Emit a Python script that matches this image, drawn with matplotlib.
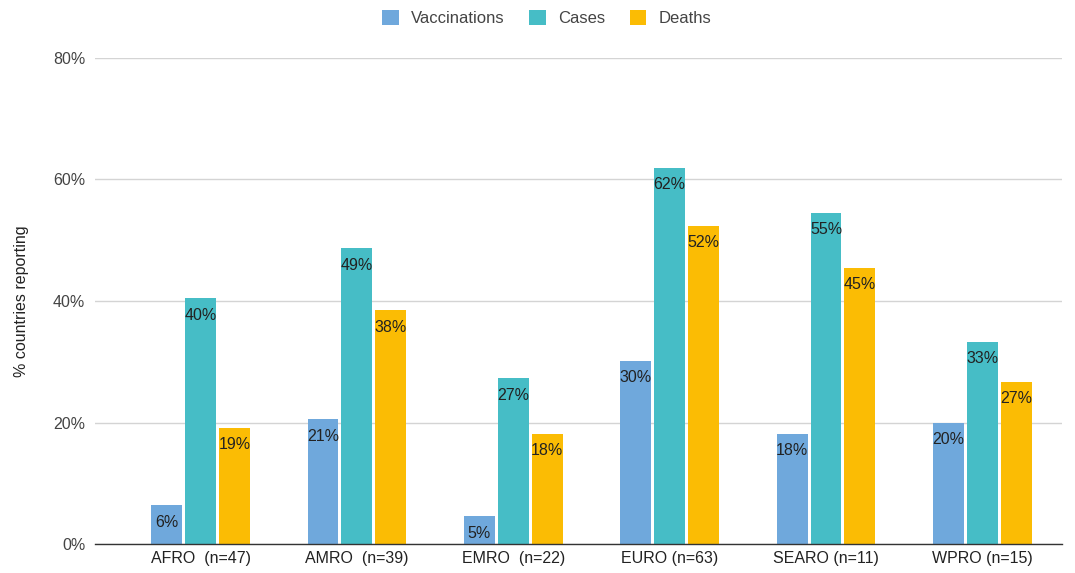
import matplotlib
matplotlib.use("Agg")
import matplotlib.pyplot as plt
import numpy as np

plt.rcParams['font.family'] = ['Liberation Sans', 'DejaVu Sans']

regions = ["AFRO  (n=47)", "AMRO  (n=39)", "EMRO  (n=22)", "EURO (n=63)", "SEARO (n=11)", "WPRO (n=15)"]
vaccinations = [6.38, 20.51, 4.55, 30.16, 18.18, 20.00]
cases = [40.43, 48.72, 27.27, 61.90, 54.55, 33.33]
deaths = [19.15, 38.46, 18.18, 52.38, 45.45, 26.67]

series = [("Vaccinations", vaccinations, "#6fa8dc"),
          ("Cases", cases, "#46bdc6"),
          ("Deaths", deaths, "#fbbc04")]

fig = plt.figure(figsize=(10.75, 5.73), dpi=100)
ax = fig.add_axes([0.0884, 0.0506, 0.8996, 0.8482])

x = np.arange(len(regions))
width = 0.198
step = 0.217

for i, (name, vals, color) in enumerate(series):
    pos = x + (i - 1) * step
    bars = ax.bar(pos, vals, width=width, color=color, label=name, zorder=3)
    for rect, v in zip(bars, vals):
        ax.annotate(f"{v:.0f}%", (rect.get_x() + rect.get_width() / 2, v),
                    xytext=(0, -17), textcoords="offset pixels",
                    ha="center", va="center", fontsize=11.5, color="#222222", zorder=4)

ax.set_xlim(-0.675, 5.51)
ax.set_ylim(0, 80)
ax.set_yticks([0, 20, 40, 60, 80])
ax.set_yticklabels([f"{t}%" for t in [0, 20, 40, 60, 80]])
ax.set_xticks(x)
ax.set_xticklabels(regions)

ax.grid(axis="y", color="#d4d4d4", linewidth=1, zorder=0)
for side in ["top", "right", "left"]:
    ax.spines[side].set_visible(False)
ax.spines["bottom"].set_color("#333333")
ax.spines["bottom"].set_linewidth(1)
ax.spines["bottom"].set_zorder(5)

ax.tick_params(axis="y", length=0, pad=7, labelsize=11.5, labelcolor="#444444")
ax.tick_params(axis="x", length=0, pad=5, labelsize=11.5, labelcolor="#222222")
ax.set_ylabel("% countries reporting", fontsize=11.5, color="#222222", labelpad=17)

ax.legend(loc="center", bbox_to_anchor=(0.467, 1.082), ncol=3, frameon=False,
          fontsize=12, handlelength=1.0, handleheight=1.0, columnspacing=1.5,
          handletextpad=0.7, labelcolor="#444444")

fig.savefig("out.png", dpi=100)
